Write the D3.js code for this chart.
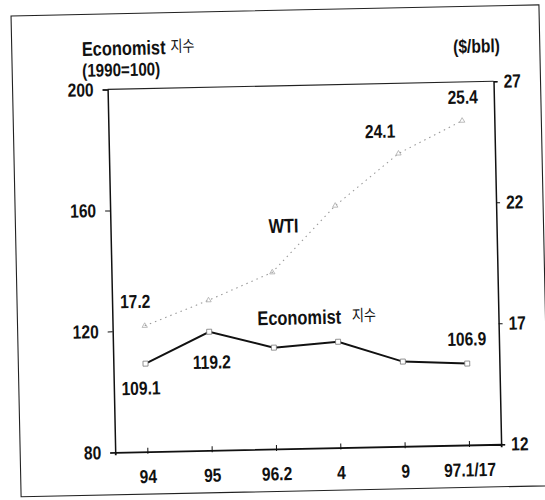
<!DOCTYPE html>
<html>
<head>
<meta charset="utf-8">
<script src="https://cdn.jsdelivr.net/npm/d3@7/dist/d3.min.js"></script>
<style>
html,body{margin:0;padding:0;background:#fff;}
svg{display:block;}
text{font-family:"Liberation Sans",Arial,sans-serif;font-weight:bold;fill:#111;}
.kr{font-family:"Noto Sans CJK KR",sans-serif;font-weight:normal;}
</style>
</head>
<body>
<script>
// ---- data ----
const categories = ["94", "95", "96.2", "4", "9", "97.1/17"];
const economist = [109.1, 119.2, 113.5, 115, 108, 106.9];
const wti = [17.2, 18.2, 19.3, 22.0, 24.1, 25.4];
const leftTicks = [80, 120, 160, 200];
const rightTicks = [12, 17, 22, 27];
const economistLabels = [{i:0, t:"109.1", dx:-5, dy:31}, {i:1, t:"119.2", dx:2, dy:37}, {i:5, t:"106.9", dx:0, dy:-18}];
const wtiLabels = [{i:0, t:"17.2", dx:-9, dy:-18}, {i:4, t:"24.1", dx:-18, dy:-16}, {i:5, t:"25.4", dx:1, dy:-17}];

const W = 545, H = 500;
const plot = {l:111, r:497, t:86, b:449};
const FONT = '"Liberation Sans",Arial,sans-serif';
const SX = 0.82; // horizontal condensing of the type

function condense(sel) {
  sel.each(function() {
    const t = d3.select(this);
    const ax = +(t.attr("x") || 0);
    t.attr("transform", `translate(${ax},0) scale(${SX},1) translate(${-ax},0)`);
  });
}

const svg = d3.select("body").append("svg").attr("width", W).attr("height", H);
const g = svg.append("g").attr("transform", "rotate(-1.2,272,250)");

// outer frame
g.append("rect").attr("x", 16).attr("y", 10.5).attr("width", 528).attr("height", 481)
  .attr("fill", "none").attr("stroke", "#222").attr("stroke-width", 1.1);

const x = d3.scalePoint().domain(categories).range([plot.l, plot.r]).padding(0.5);
const yL = d3.scaleLinear().domain([80, 200]).range([plot.b, plot.t]);
const yR = d3.scaleLinear().domain([12, 27]).range([plot.b, plot.t]);

// plot box top line
g.append("line").attr("x1", plot.l).attr("x2", plot.r).attr("y1", plot.t).attr("y2", plot.t)
  .attr("stroke", "#222").attr("stroke-width", 1.1);

// left axis
const axL = g.append("g").attr("transform", `translate(${plot.l},0)`)
  .call(d3.axisLeft(yL).tickValues(leftTicks).tickSize(5).tickPadding(9));
// right axis
const axR = g.append("g").attr("transform", `translate(${plot.r},0)`)
  .call(d3.axisRight(yR).tickValues(rightTicks).tickSize(4).tickPadding(6));
// bottom axis
const axB = g.append("g").attr("transform", `translate(0,${plot.b})`)
  .call(d3.axisBottom(x).tickSize(3).tickPadding(15));
axB.selectAll(".tick line").attr("y1", -4).attr("y2", 2);

[axL, axR, axB].forEach(a => {
  a.select(".domain").attr("stroke", "#111").attr("stroke-width", 1.5);
  a.selectAll(".tick line").attr("stroke", "#111").attr("stroke-width", 1);
  a.selectAll(".tick text").style("font-family", FONT)
    .style("font-weight", "bold").style("font-size", "19px").attr("fill", "#111")
    .call(condense);
});
axB.select(".domain").attr("stroke-width", 1.8);

// WTI line (faint dotted)
const lineW = d3.line().x((d, i) => x(categories[i])).y(d => yR(d));
g.append("path").datum(wti).attr("d", lineW).attr("fill", "none")
  .attr("stroke", "#9a9a9a").attr("stroke-width", 1.1).attr("stroke-dasharray", "1.5,4");
g.selectAll(".wm").data(wti).enter().append("path").attr("class", "wm")
  .attr("transform", (d, i) => `translate(${x(categories[i])},${yR(d)})`)
  .attr("d", d3.symbol().type(d3.symbolTriangle).size(12))
  .attr("fill", "none").attr("stroke", "#aaa").attr("stroke-width", 0.8);

// Economist line
const lineE = d3.line().x((d, i) => x(categories[i])).y(d => yL(d));
g.append("path").datum(economist).attr("d", lineE).attr("fill", "none")
  .attr("stroke", "#111").attr("stroke-width", 2);
g.selectAll(".em").data(economist).enter().append("rect").attr("class", "em")
  .attr("x", (d, i) => x(categories[i]) - 2.5).attr("y", d => yL(d) - 2.5)
  .attr("width", 5).attr("height", 5).attr("fill", "#fff").attr("stroke", "#777").attr("stroke-width", 0.8);

// value labels
const fs = 19;
const labels = g.append("g");
economistLabels.forEach(l => {
  labels.append("text").attr("x", x(categories[l.i]) + l.dx).attr("y", yL(economist[l.i]) + l.dy)
    .attr("text-anchor", "middle").style("font-size", fs + "px").text(l.t);
});
wtiLabels.forEach(l => {
  labels.append("text").attr("x", x(categories[l.i]) + l.dx).attr("y", yR(wti[l.i]) + l.dy)
    .attr("text-anchor", "middle").style("font-size", fs + "px").text(l.t);
});

// series names
labels.append("text").attr("x", 284).attr("y", 233).attr("text-anchor", "middle")
  .style("font-size", "20px").text("WTI");
const en = labels.append("text").attr("x", 256).attr("y", 325).style("font-size", "20px");
en.append("tspan").text("Economist");
en.append("tspan").attr("class", "kr").attr("dx", 13).attr("dy", -2).style("font-size", "16px").text("지수");

// axis titles
const t1 = labels.append("text").attr("x", 86).attr("y", 52).style("font-size", "20px");
t1.append("tspan").text("Economist");
t1.append("tspan").attr("class", "kr").attr("dx", 6).attr("dy", -2).style("font-size", "16px").text("지수");
labels.append("text").attr("x", 86).attr("y", 73).style("font-size", "18.5px").text("(1990=100)");
labels.append("text").attr("x", 504).attr("y", 57).attr("text-anchor", "end")
  .style("font-size", "19px").text("($/bbl)");
labels.selectAll("text").call(condense);
</script>
</body>
</html>
